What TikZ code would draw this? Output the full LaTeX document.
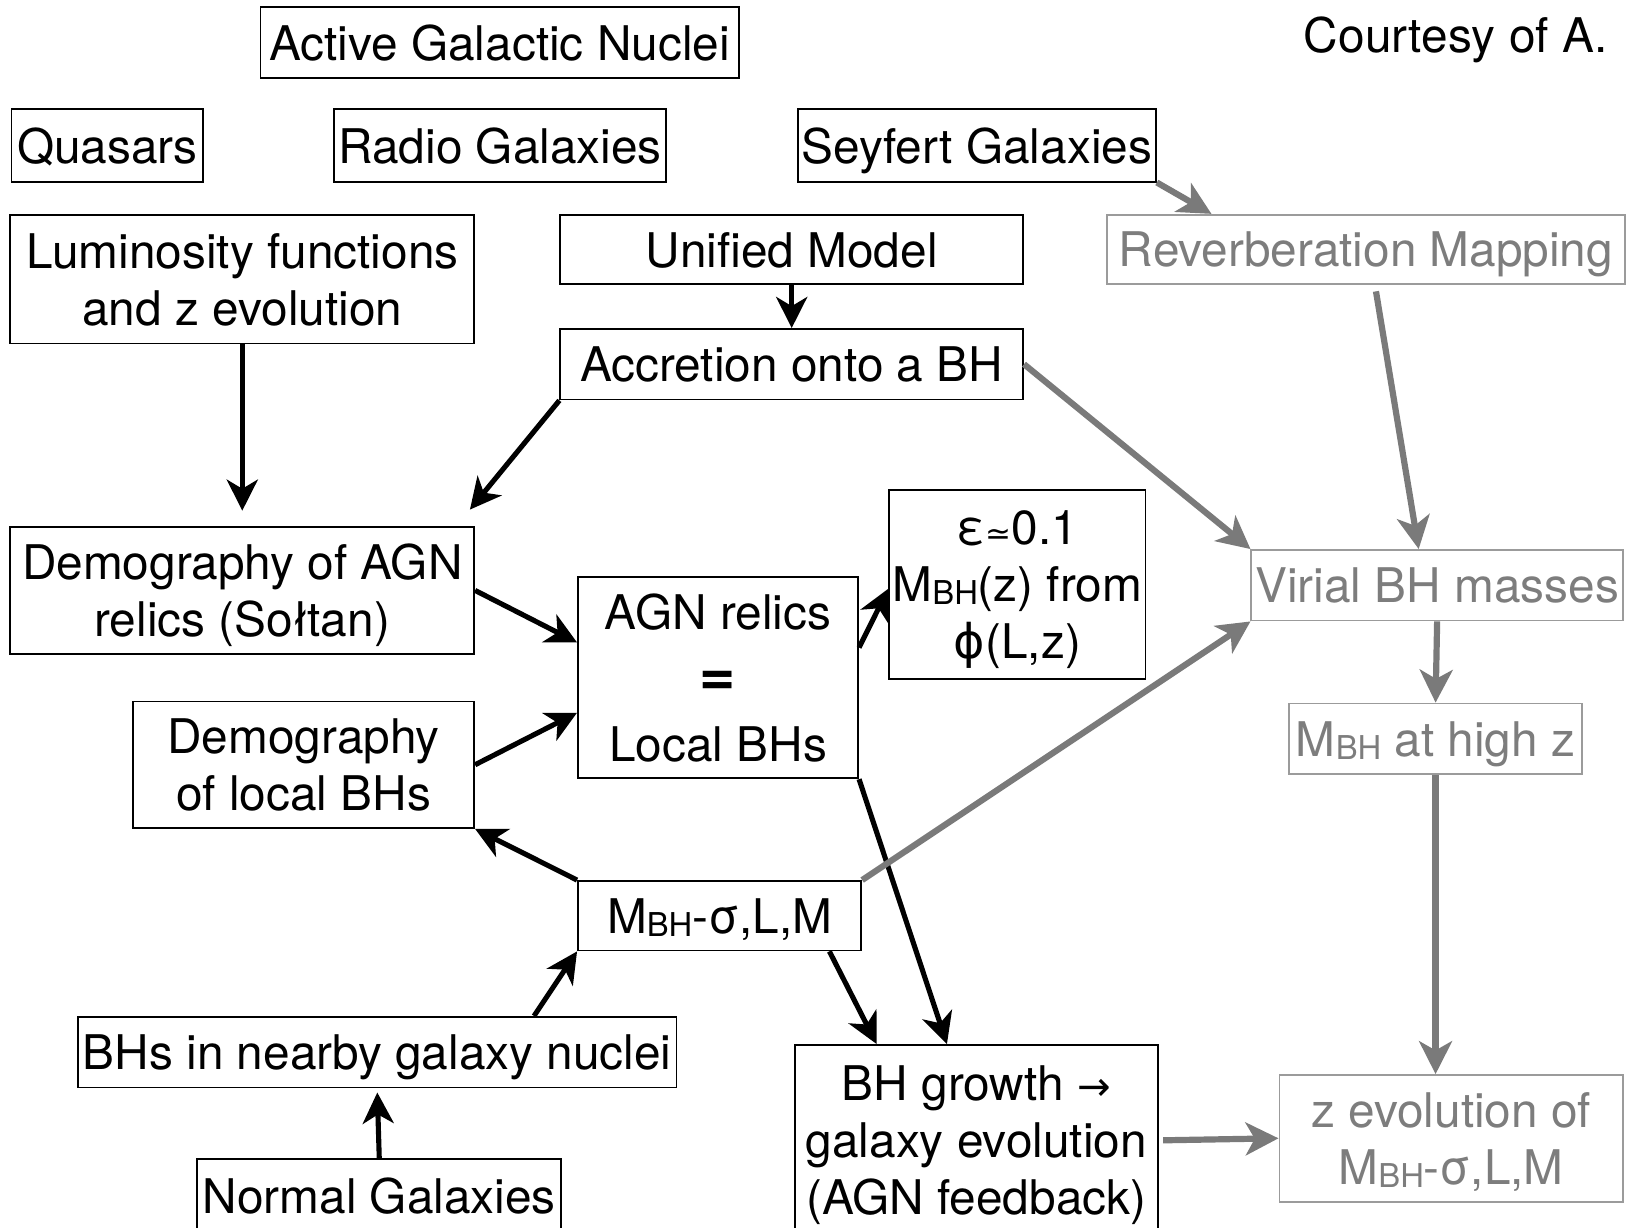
\documentclass[tikz,border=0pt]{standalone}
\usepackage{fontspec}
\setmainfont{TeX Gyre Heros}
\newfontfamily\symfont{DejaVu Sans}
\usetikzlibrary{arrows.meta}
\definecolor{textgrey}{RGB}{125,125,125}
\definecolor{boxgrey}{RGB}{155,155,155}
\definecolor{arrowgrey}{RGB}{122,122,122}
\newcommand{\mbh}{M\raisebox{-1pt}{\fontsize{9}{10}\selectfont BH}}

\begin{document}
\begin{tikzpicture}[
		font=\fontsize{13.1}{15.6}\selectfont,
		box/.style={draw, line width=0.5pt, inner sep=0pt, align=center, text depth=0pt},
		greybox/.style={box, draw=boxgrey, text=textgrey},
		arr/.style={-{Stealth[length=8.5pt,width=8.5pt,inset=2.5pt]}, line width=1.4pt},
		greyarr/.style={-{Stealth[length=9pt,width=9pt,inset=2.5pt]}, line width=1.7pt, draw=arrowgrey}
	]
		\useasboundingbox (0,0) rectangle (15.68,-11.83);
		
		% top row
		\node[box, minimum width=4.61cm, minimum height=0.68cm] (agn) at (4.815,-0.41) {Active Galactic Nuclei};
		\node[anchor=east, inner sep=0pt, text depth=0pt] (courtesy) at (15.50,-0.33) {Courtesy of A.};
		\node[box, minimum width=1.85cm, minimum height=0.70cm] (quasars) at (1.035,-1.40) {Quasars};
		\node[box, minimum width=3.20cm, minimum height=0.70cm] (radio) at (4.82,-1.40) {Radio Galaxies};
		\node[box, minimum width=3.45cm, minimum height=0.70cm] (seyfert) at (9.415,-1.40) {Seyfert Galaxies};
		
		% left and middle column
		\node[box, minimum width=4.47cm, minimum height=1.24cm] (lumfun) at (2.335,-2.69) {Luminosity functions\\and z evolution};
		\node[box, minimum width=4.46cm, minimum height=0.67cm] (unified) at (7.63,-2.405) {Unified Model};
		\node[box, minimum width=4.46cm, minimum height=0.68cm] (accretion) at (7.63,-3.51) {Accretion onto a BH};
		\node[box, minimum width=4.47cm, minimum height=1.22cm] (demagn) at (2.335,-5.69) {Demography of AGN\\relics (So{ł}tan)};
		\node[box, minimum width=2.47cm, minimum height=1.82cm] (effic) at (9.805,-5.63) {ε{\symfont\fontsize{8.5}{10}\selectfont ≃}0.1\\\mbh(z) from\\{\symfont ϕ}(L,z)};
		\node[box, minimum width=2.70cm, minimum height=1.94cm] (relics) at (6.92,-6.53) {AGN relics\\[2.6pt]{\fontsize{17}{17}\selectfont\bfseries =}\\[2.4pt]Local BHs};
		\node[box, minimum width=3.29cm, minimum height=1.22cm] (demloc) at (2.925,-7.37) {Demography\\of local BHs};
		\node[box, minimum width=2.73cm, minimum height=0.67cm] (msigma) at (6.935,-8.825) {\mbh-σ,L,M};
		\node[box, minimum width=5.77cm, minimum height=0.68cm] (nearby) at (3.635,-10.14) {BHs in nearby galaxy nuclei};
		\node[box, minimum width=3.51cm, minimum height=0.70cm] (normal) at (3.655,-11.52) {Normal Galaxies};
		\node[box, minimum width=3.50cm, minimum height=1.84cm] (growth) at (9.41,-10.99) {BH growth {\symfont\fontsize{11}{12}\selectfont →}\\galaxy evolution\\(AGN feedback)};
		
		% grey column
		\node[greybox, minimum width=4.99cm, minimum height=0.67cm] (reverb) at (13.165,-2.405) {Reverberation Mapping};
		\node[greybox, minimum width=3.58cm, minimum height=0.68cm] (virial) at (13.85,-5.64) {Virial BH masses};
		\node[greybox, minimum width=2.83cm, minimum height=0.68cm] (mbhz) at (13.835,-7.12) {\mbh{} at high z};
		\node[greybox, minimum width=3.31cm, minimum height=1.22cm] (zevol) at (13.985,-10.97) {z evolution of\\\mbh-σ,L,M};
		
		% black arrows
		\draw[arr, shorten >=0.15cm] (lumfun.south) -- (demagn.north);
		\draw[arr] (unified.south) -- (accretion.north);
		\draw[arr] (accretion.south west) -- ([xshift=-0.05cm,yshift=0.16cm]demagn.north east);
		\draw[arr] (demagn.east) -- (relics.166);
		\draw[arr] (demloc.east) -- (relics.194);
		\draw[arr] (relics.12) -- (effic.182);
		\draw[arr] (relics.south east) -- (growth.107);
		\draw[arr] (msigma.north west) -- (demloc.south east);
		\draw[arr] (nearby.13) -- (msigma.south west);
		\draw[arr, shorten >=0.04cm] (normal.north) -- (nearby.south);
		\draw[arr] (msigma.342) -- (growth.136);
		
		% grey arrows
		\draw[greyarr] (seyfert.south east) -- (reverb.167);
		\draw[greyarr, shorten <=0.06cm] (reverb.284) -- (virial.117);
		\draw[greyarr] (accretion.east) -- (virial.north west);
		\draw[greyarr] (msigma.north east) -- (virial.south west);
		\draw[greyarr] (virial.south) -- (mbhz.north);
		\draw[greyarr] (mbhz.south) -- (mbhz.south |- zevol.north);
		\draw[greyarr, shorten <=0.04cm] (growth.east) -- (zevol.west);
		
	\end{tikzpicture}
\end{document}
